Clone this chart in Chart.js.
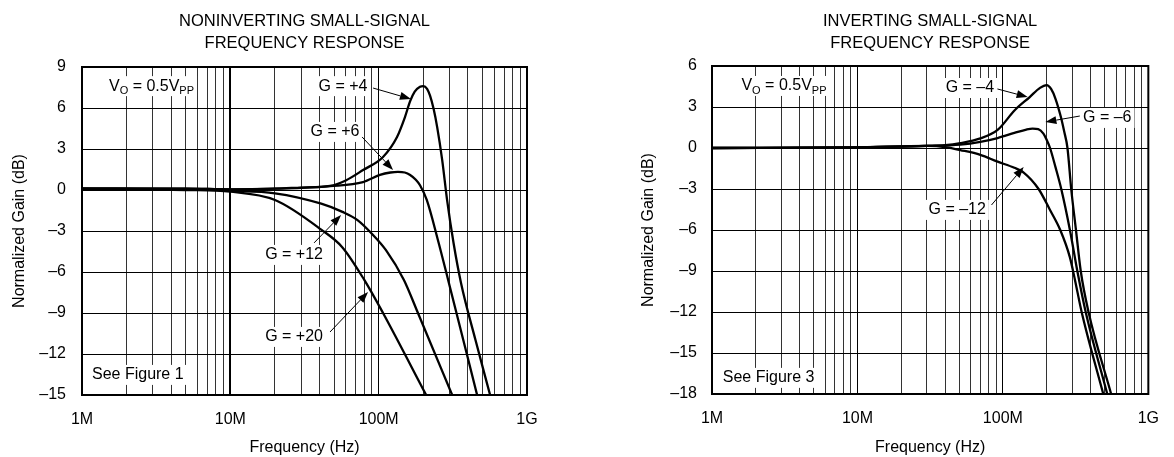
<!DOCTYPE html>
<html><head><meta charset="utf-8">
<script src="https://cdn.jsdelivr.net/npm/chart.js@4.4.1/dist/chart.umd.min.js"></script>
<style>
html,body{margin:0;padding:0;background:#fff;}
#wrap{position:relative;width:1174px;height:457px;overflow:hidden;background:#fff;}
canvas{position:absolute;top:0;}
</style></head><body>
<div id="wrap">
<canvas id="c1" width="587" height="457" style="left:0px"></canvas>
<canvas id="c2" width="587" height="457" style="left:587px"></canvas>
</div>
<script>
// ---- tick values / labels ----
const xTickValues = [1e6, 1e7, 1e8, 1e9];
const xTickLabels = ['1M', '10M', '100M', '1G'];
const yTicksNonInv = [9, 6, 3, 0, -3, -6, -9, -12, -15];
const yTicksInv = [6, 3, 0, -3, -6, -9, -12, -15, -18];

// ---- Noninverting (left) ----
const freqP4 = [1e6, 5e6, 10e6, 20e6, 30e6, 47e6, 60e6, 78.5e6, 107e6, 133e6, 150e6, 163e6, 175e6, 190e6, 200e6, 212e6, 222e6, 235e6, 248e6, 268e6, 289e6, 320e6, 359e6, 450e6, 564e6];
const gainP4 = [0.1, 0.1, 0.05, 0.1, 0.18, 0.3, 0.7, 1.46, 2.42, 3.88, 5.3, 6.5, 7.2, 7.55, 7.6, 7.4, 6.9, 5.9, 4.6, 2.2, -0.7, -3.9, -6.8, -11, -15];
const freqP6 = [1e6, 5e6, 10e6, 20e6, 30e6, 47e6, 78.5e6, 102e6, 120e6, 135e6, 150e6, 163e6, 178e6, 190e6, 211e6, 250e6, 294e6, 461e6];
const gainP6 = [0.1, 0.1, 0.05, 0.1, 0.15, 0.28, 0.58, 1.1, 1.28, 1.33, 1.28, 1.1, 0.75, 0.35, -0.73, -3.6, -6.58, -15];
const freqP12 = [1e6, 5e6, 10e6, 20e6, 41e6, 57e6, 72e6, 90e6, 112e6, 148e6, 184e6, 313e6];
const gainP12 = [0.1, 0.05, -0.05, -0.24, -1.0, -1.6, -2.2, -3.2, -4.4, -6.58, -9, -15];
const freqP20 = [1e6, 5e6, 10e6, 20e6, 41e6, 57e6, 80e6, 107e6, 209e6];
const gainP20 = [0.1, 0.0, -0.12, -0.73, -2.9, -4.2, -6.58, -9, -15];

// ---- Inverting (right) ----
const freqN4 = [1e6, 10e6, 20e6, 30e6, 40e6, 51e6, 70e6, 92e6, 121e6, 153e6, 180e6, 200e6, 215e6, 230e6, 250e6, 264e6, 278e6, 295e6, 318e6, 343e6, 388e6, 555e6];
const gainN4 = [0, 0.05, 0.1, 0.15, 0.2, 0.35, 0.7, 1.32, 2.78, 3.73, 4.4, 4.6, 4.3, 3.6, 2.3, 1.2, 0, -3, -6, -9, -12, -18];
const freqN6 = [1e6, 10e6, 30e6, 51e6, 70e6, 92e6, 120e6, 145e6, 160e6, 175e6, 190e6, 200e6, 211e6, 230e6, 252e6, 289e6, 325e6, 371e6, 522e6];
const gainN6 = [0, 0.05, 0.15, 0.25, 0.45, 0.73, 1.1, 1.35, 1.42, 1.38, 1.05, 0.6, 0, -1.4, -3, -6, -9, -12, -18];
const freqN12 = [1e6, 10e6, 30e6, 41e6, 51e6, 70e6, 92e6, 120e6, 139e6, 176e6, 210e6, 248e6, 289e6, 313e6, 348e6, 490e6];
const gainN12 = [0, 0.05, 0.15, 0.05, -0.15, -0.5, -1.0, -1.45, -1.8, -3, -4.5, -6, -8, -9.65, -12, -18];

// ---- annotations (data coordinates) ----
const notesLeft = [
  {f: 1.52e6, g: 7.6, align: 'left', parts: [['V'], ['O', 1], [' = 0.5V'], ['PP', 1]]},
  {f: 57.5e6, g: 7.6, align: 'center', parts: [['G = +4']]},
  {f: 50.8e6, g: 4.25, align: 'center', parts: [['G = +6']]},
  {f: 26.9e6, g: -4.75, align: 'center', parts: [['G = +12']]},
  {f: 26.9e6, g: -10.75, align: 'center', parts: [['G = +20']]},
  {f: 1.168e6, g: -13.53, align: 'left', parts: [['See Figure 1']]}
];
const arrowsLeft = [
  [91.7e6, 7.46, 165e6, 6.66],
  [77.3e6, 3.88, 125e6, 1.47],
  [36.7e6, -3.87, 55.8e6, -1.83],
  [47e6, -10.39, 84.8e6, -7.46]
];
const notesRight = [
  {f: 1.594e6, g: 4.54, align: 'left', parts: [['V'], ['O', 1], [' = 0.5V'], ['PP', 1]]},
  {f: 59.3e6, g: 4.39, align: 'center', parts: [['G = \u20134']]},
  {f: 522e6, g: 2.2, align: 'center', parts: [['G = \u20136']]},
  {f: 48.5e6, g: -4.53, align: 'center', parts: [['G = \u201312']]},
  {f: 1.186e6, g: -16.82, align: 'left', parts: [['See Figure 3']]}
];
const arrowsRight = [
  [91.7e6, 4.32, 148e6, 3.73],
  [338e6, 2.34, 196e6, 1.9],
  [83.5e6, -4.17, 139e6, -1.39]
];

const FONT = '"Liberation Sans", Arial, Helvetica, sans-serif';
Chart.defaults.font.family = FONT;
Chart.defaults.color = '#000';

function series(fs, gs) {
  return {
    data: fs.map((f, i) => ({x: f, y: gs[i]})),
    borderColor: '#000', borderWidth: 2.3, pointRadius: 0,
    cubicInterpolationMode: 'monotone', fill: false
  };
}

function drawNote(ctx, px, py, parts, align) {
  const big = '16px ' + FONT, small = '11px ' + FONT;
  const widths = parts.map(p => { ctx.font = p[1] ? small : big; return ctx.measureText(p[0]).width; });
  const w = widths.reduce((a, b) => a + b, 0);
  let x0 = align === 'center' ? px - w / 2 : (align === 'right' ? px - w : px);
  ctx.fillStyle = '#fff';
  ctx.fillRect(x0 - 3, py - 10, w + 6, 20);
  ctx.fillStyle = '#000';
  ctx.textAlign = 'left';
  ctx.textBaseline = 'middle';
  parts.forEach((p, i) => {
    ctx.font = p[1] ? small : big;
    ctx.fillText(p[0], x0, p[1] ? py + 5 : py);
    x0 += widths[i];
  });
}

function drawArrow(ctx, x1, y1, x2, y2) {
  ctx.strokeStyle = '#000'; ctx.fillStyle = '#000'; ctx.lineWidth = 1;
  const ang = Math.atan2(y2 - y1, x2 - x1);
  const L = 11, W = 4;
  const bx = x2 - L * Math.cos(ang), by = y2 - L * Math.sin(ang);
  ctx.beginPath(); ctx.moveTo(x1, y1); ctx.lineTo(bx, by); ctx.stroke();
  ctx.beginPath();
  ctx.moveTo(x2, y2);
  ctx.lineTo(bx + W * Math.sin(ang), by - W * Math.cos(ang));
  ctx.lineTo(bx - W * Math.sin(ang), by + W * Math.cos(ang));
  ctx.closePath(); ctx.fill();
}

function makePlugin(title, notes, arrows) {
  return {
    id: 'decor',
    afterDraw(chart) {
      const {ctx, chartArea: a, scales} = chart;
      const sx = scales.x, sy = scales.y;
      ctx.save();
      notes.forEach(n => drawNote(ctx, sx.getPixelForValue(n.f), sy.getPixelForValue(n.g), n.parts, n.align));
      arrows.forEach(r => drawArrow(ctx, sx.getPixelForValue(r[0]), sy.getPixelForValue(r[1]), sx.getPixelForValue(r[2]), sy.getPixelForValue(r[3])));
      ctx.lineWidth = 2; ctx.strokeStyle = '#000';
      ctx.strokeRect(a.left, a.top, a.right - a.left, a.bottom - a.top);
      ctx.fillStyle = '#000';
      ctx.font = '16.5px ' + FONT;
      ctx.textAlign = 'center'; ctx.textBaseline = 'middle';
      const cx = (a.left + a.right) / 2;
      ctx.fillText(title[0], cx, 21);
      ctx.fillText(title[1], cx, 43.5);
      ctx.restore();
    }
  };
}

function makeChart(id, o) {
  return new Chart(document.getElementById(id), {
    type: 'line',
    data: {datasets: o.datasets},
    options: {
      responsive: false, animation: false, devicePixelRatio: 1,
      layout: {padding: {top: o.top, right: o.right, left: 0, bottom: 0}},
      plugins: {legend: {display: false}, tooltip: {enabled: false}, title: {display: false}},
      scales: {
        x: {
          type: 'logarithmic', min: 1e6, max: 1e9,
          afterBuildTicks: s => {
            const t = [];
            for (let d = 0; d < 3; d++) for (let m = 1; m < 10; m++) t.push({value: m * xTickValues[d]});
            t.push({value: xTickValues[3]});
            s.ticks = t;
          },
          afterFit: s => { s.height = o.xh; },
          ticks: {
            autoSkip: false, maxRotation: 0, padding: 15,
            font: {size: 16},
            callback: v => { const i = xTickValues.indexOf(v); return i >= 0 ? xTickLabels[i] : ''; }
          },
          grid: {
            drawTicks: false,
            color: c => (c.tick && xTickValues.indexOf(c.tick.value) >= 0) ? '#000' : '#333',
            lineWidth: c => (o.thick10M && c.tick && c.tick.value === 1e7) ? 2 : 1
          },
          border: {display: true, color: '#000', width: 2},
          title: {display: true, text: 'Frequency (Hz)', font: {size: 16}, padding: {top: 0, bottom: 0}}
        },
        y: {
          type: 'linear', min: o.yTicks[o.yTicks.length - 1], max: o.yTicks[0],
          afterBuildTicks: s => { s.ticks = o.yTicks.map(v => ({value: v})); },
          afterFit: s => { s.width = o.yw; },
          ticks: {
            padding: o.ytp, font: {size: 16},
            callback: v => v < 0 ? '\u2013' + Math.abs(v) : String(v)
          },
          grid: {drawTicks: false, color: '#000', lineWidth: 1},
          border: {display: true, color: '#000', width: 2},
          title: {display: true, text: 'Normalized Gain (dB)', font: {size: 16}, padding: {top: o.ytitle, bottom: 0}}
        }
      }
    },
    plugins: [makePlugin(o.title, o.notes, o.arrows)]
  });
}

makeChart('c1', {
  datasets: [series(freqP4, gainP4), series(freqP6, gainP6), series(freqP12, gainP12), series(freqP20, gainP20)],
  yTicks: yTicksNonInv, top: 67, right: 60, xh: 62, yw: 82, ytp: 16, ytitle: 10.4, thick10M: true,
  title: ['NONINVERTING SMALL-SIGNAL', 'FREQUENCY RESPONSE'],
  notes: notesLeft, arrows: arrowsLeft
});
makeChart('c2', {
  datasets: [series(freqN4, gainN4), series(freqN6, gainN6), series(freqN12, gainN12)],
  yTicks: yTicksInv, top: 66, right: 16, xh: 63, yw: 125, ytp: 15, ytitle: 52.4, thick10M: false,
  title: ['INVERTING SMALL-SIGNAL', 'FREQUENCY RESPONSE'],
  notes: notesRight, arrows: arrowsRight
});
</script>
</body></html>
